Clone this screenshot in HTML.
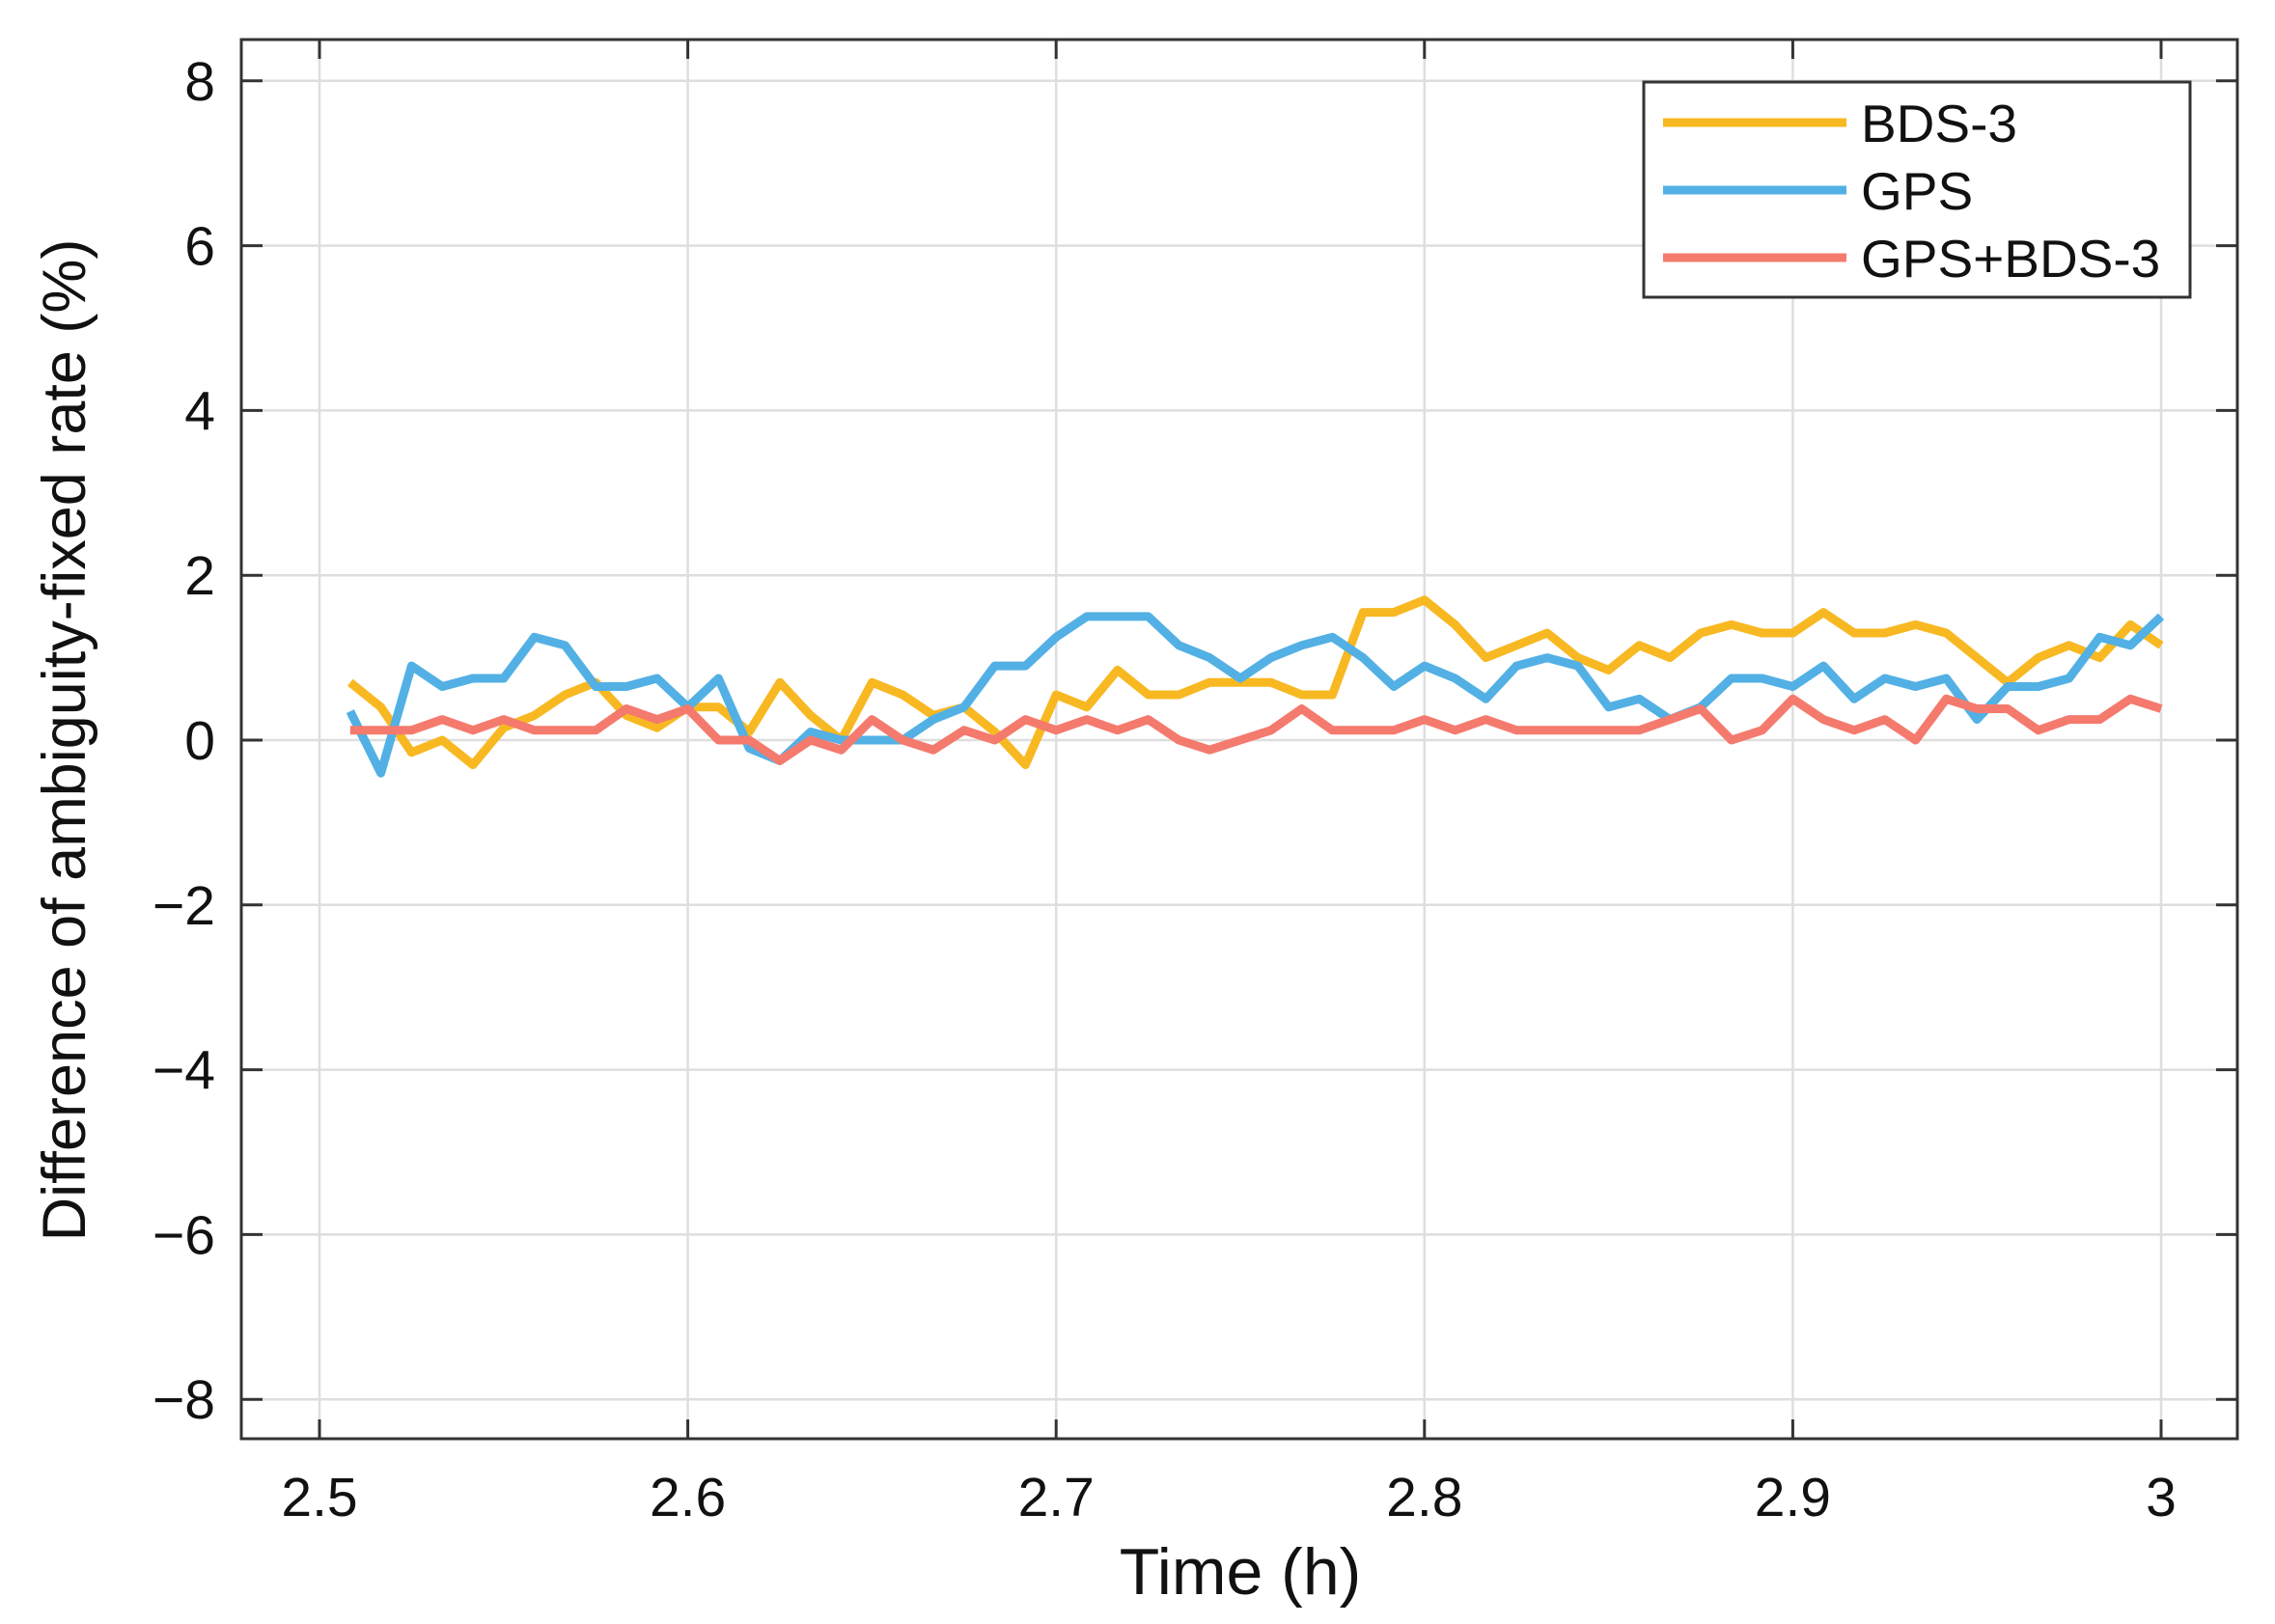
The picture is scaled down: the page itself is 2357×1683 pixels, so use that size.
<!DOCTYPE html>
<html><head><meta charset="utf-8"><style>
html,body{margin:0;padding:0;background:#fff;}
svg{display:block;font-family:"Liberation Sans",Arial,sans-serif;}
</style></head><body>
<svg id="chart" width="2357" height="1683" viewBox="0 0 2357 1683" xmlns="http://www.w3.org/2000/svg">
<rect x="0" y="0" width="2357" height="1683" fill="#fff"/>
<g id="grid"></g>
<g id="series"></g>
<g id="axes"></g>
<text x="1285" y="1652" font-size="68" text-anchor="middle" fill="#111">Time (h)</text>
<text transform="translate(88,767) rotate(-90)" font-size="63" text-anchor="middle" fill="#111">Difference of ambiguity-fixed rate (%)</text>
<g id="legend"></g>
</svg>
<script>
const xTicks = [2.5, 2.6, 2.7, 2.8, 2.9, 3.0];
const xTickLabels = ["2.5", "2.6", "2.7", "2.8", "2.9", "3"];
const yTicks = [8, 6, 4, 2, 0, -2, -4, -6, -8];
const yTickLabels = ["8", "6", "4", "2", "0", "\u22122", "\u22124", "\u22126", "\u22128"];
const seriesNames = ["BDS-3", "GPS", "GPS+BDS-3"];
const bds3 = [0.7,0.4,-0.15,0,-0.3,0.15,0.3,0.55,0.7,0.3,0.15,0.4,0.4,0.1,0.7,0.3,0.0,0.7,0.55,0.3,0.4,0.1,-0.3,0.55,0.4,0.85,0.55,0.55,0.7,0.7,0.7,0.55,0.55,1.55,1.55,1.7,1.4,1.0,1.15,1.3,1.0,0.85,1.15,1.0,1.3,1.4,1.3,1.3,1.55,1.3,1.3,1.4,1.3,1.0,0.7,1.0,1.15,1.0,1.4,1.15];
const gps = [0.35,-0.4,0.9,0.65,0.75,0.75,1.25,1.15,0.65,0.65,0.75,0.4,0.75,-0.1,-0.25,0.1,0,0,0,0.25,0.4,0.9,0.9,1.25,1.5,1.5,1.5,1.15,1.0,0.75,1.0,1.15,1.25,1.0,0.65,0.9,0.75,0.5,0.9,1.0,0.9,0.4,0.5,0.25,0.4,0.75,0.75,0.65,0.9,0.5,0.75,0.65,0.75,0.25,0.65,0.65,0.75,1.25,1.15,1.5];
const combined = [0.12,0.12,0.12,0.25,0.12,0.25,0.12,0.12,0.12,0.38,0.25,0.38,0,0,-0.25,0,-0.12,0.25,0,-0.12,0.12,0,0.25,0.12,0.25,0.12,0.25,0,-0.12,0,0.12,0.38,0.12,0.12,0.12,0.25,0.12,0.25,0.12,0.12,0.12,0.12,0.12,0.25,0.38,0,0.12,0.5,0.25,0.12,0.25,0,0.5,0.38,0.38,0.12,0.25,0.25,0.5,0.38];
const timeStart = 2.5;
const timeStep = 1/120;

const NS = "http://www.w3.org/2000/svg";
const L = 250, R = 2318, T = 41, B = 1491;
const xScale = v => 331 + (v - 2.5) / 0.5 * (2239 - 331);
const yScale = v => 767 - v * 85.4;
function mk(tag, attrs, parent){
  const e = document.createElementNS(NS, tag);
  for (const k in attrs) e.setAttribute(k, attrs[k]);
  parent.appendChild(e);
  return e;
}
const grid = document.getElementById('grid');
const axes = document.getElementById('axes');
xTicks.forEach((t, i) => {
  const x = xScale(t);
  const g = mk('line', {x1:x, x2:x, y1:T, y2:B, stroke:'#dedede', 'stroke-width':2.5}, grid);
  
  
  const tk1 = mk('line', {x1:x, x2:x, y1:B, y2:B-20, stroke:'#333', 'stroke-width':3}, axes);
  
  
  const tk2 = mk('line', {x1:x, x2:x, y1:T, y2:T+20, stroke:'#333', 'stroke-width':3}, axes);
  
  
  const lb = mk('text', {x:x, y:1571, 'font-size':57, 'text-anchor':'middle', fill:'#111'}, axes);
  lb.textContent = xTickLabels[i];
  
  
});
yTicks.forEach((t, i) => {
  const y = yScale(t);
  const g = mk('line', {x1:L, x2:R, y1:y, y2:y, stroke:'#dedede', 'stroke-width':2.5}, grid);
  
  
  const tk1 = mk('line', {x1:L, x2:L+22, y1:y, y2:y, stroke:'#333', 'stroke-width':3}, axes);
  
  
  const tk2 = mk('line', {x1:R, x2:R-22, y1:y, y2:y, stroke:'#333', 'stroke-width':3}, axes);
  
  
  const lb = mk('text', {x:223, y:y+20, 'font-size':57, 'text-anchor':'end', fill:'#111'}, axes);
  lb.textContent = yTickLabels[i];
  
  
});
const frame = mk('rect', {x:L, y:T, width:R-L, height:B-T, fill:'none', stroke:'#333', 'stroke-width':3}, axes);



const colors = ['#f8b822', '#52b0e4', '#f47a6d'];
const allSeries = [bds3, gps, combined];
const sg = document.getElementById('series');
allSeries.forEach((vals, si) => {
  const pts = vals.map((v, i) => xScale(timeStart + (i + 1) * timeStep).toFixed(1) + ',' + yScale(v).toFixed(1)).join(' ');
  const pl = mk('polyline', {points:pts, fill:'none', stroke:colors[si], 'stroke-width':9, 'stroke-linejoin':'round'}, sg);
  
  
});

const lg = document.getElementById('legend');
const box = mk('rect', {x:1703, y:85, width:566, height:223, fill:'#fff', stroke:'#333', 'stroke-width':3}, lg);


const rowsY = [127, 197, 267];
seriesNames.forEach((n, i) => {
  const ln = mk('line', {x1:1723, x2:1913, y1:rowsY[i], y2:rowsY[i], stroke:colors[i], 'stroke-width':9}, lg);
  
  
  const tx = mk('text', {x:1928, y:rowsY[i]+20, 'font-size':55, fill:'#111'}, lg);
  tx.textContent = n;
  
  
});
</script>
</body></html>
